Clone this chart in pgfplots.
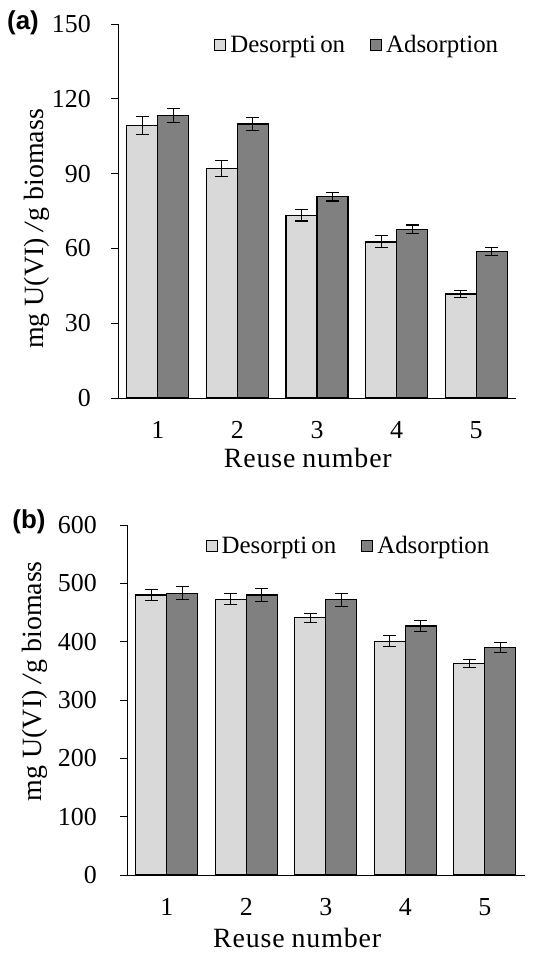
\documentclass[border=0pt]{standalone}
\usepackage{pgfplots}
\pgfplotsset{compat=1.18}
\usepackage{pgfplotstable}
\usepackage{fontspec}
\setmainfont{Liberation Serif}
\newfontfamily\panelfont{Liberation Sans}
\newfontfamily\wideserif[LetterSpace=3]{Liberation Serif}

\definecolor{desfill}{HTML}{D9D9D9}
\definecolor{adsfill}{HTML}{808080}

% reuse cycles, desorption / adsorption with error
\pgfplotstableread{
x d de a ae
1 109.3 3.5 113.3 2.7
2 92.0 3.3 109.9 2.7
3 73.3 2.3 80.8 1.8
4 62.6 2.4 67.6 1.8
5 41.7 1.3 58.8 1.5
}\tablea
\pgfplotstableread{
x d de a ae
1 480 9.7 483 11
2 473 10 480 11
3 441 8 472 11
4 401 9 427 9
5 362 7 390 8
}\tableb

\pgfplotsset{
  reuse/.style={
    scale only axis,
    ybar=0pt, bar width=31bp,
    xmin=0.5, xmax=5.5, ymin=0,
    axis x line=bottom, axis y line=left,
    axis line style={-, line width=1pt},
    tick align=outside,
    xtick={1,...,5},
    major x tick style={draw=none},
    extra x ticks={0.5,1.5,...,5.5},
    extra x tick labels={},
    extra x tick style={major tick length=6bp, tick style={line width=1pt, black}},
    major tick length=7bp,
    tick style={line width=1pt, black},
    /pgf/number format/assume math mode=true,
    ticklabel style={font=\fontsize{26}{28}\selectfont},
    xticklabel style={anchor=center, yshift=-25bp},
    yticklabel style={anchor=east, inner sep=0pt},
    label style={font=\fontsize{28}{30}\selectfont},
    ylabel={mg U(VI) \textit{/}g biomass},
    xlabel={\wideserif Reuse\hspace{0.25em}number},
    legend columns=2,
    legend style={draw=none, fill=none, font=\fontsize{25}{27}\selectfont,
      /tikz/every even column/.append style={column sep=24bp},
      /tikz/every odd column/.append style={column sep=3bp},
      nodes={inner sep=1bp}},
    legend image code/.code={\draw[#1, line width=0.9pt] (0bp,-5.5bp) rectangle (11bp,5.5bp);},
  },
  barD/.style={fill=desfill, draw=black, line width=1.2pt,
    error bars/.cd, y dir=both, y explicit,
    error bar style={line width=1.1pt, black},
    error mark options={black, mark size=6.5bp, line width=1.1pt, rotate=90}},
  barA/.style={fill=adsfill, draw=black, line width=1.2pt,
    error bars/.cd, y dir=both, y explicit,
    error bar style={line width=1.1pt, black},
    error mark options={black, mark size=6.5bp, line width=1.1pt, rotate=90}},
}

\begin{document}
\begin{tikzpicture}[x=1bp, y=1bp]
\useasboundingbox (0,-957) rectangle (536,0);

% panel (a)
\begin{axis}[reuse,
    at={(118bp,-398bp)}, anchor=south west,
    width=398bp, height=374bp,
    ymax=150, ytick={0,30,...,150},
    yticklabel style={xshift=-20bp},
    ylabel style={at={(axis description cs:-0.205,0.452)}, anchor=center},
    xlabel style={at={(axis description cs:0.477,-0.160)}, anchor=center},
    legend style={at={(axis description cs:0.60,0.944)}, anchor=center},
  ]
  \addplot[barD] table[x=x, y=d, y error=de] {\tablea};
  \addplot[barA] table[x=x, y=a, y error=ae] {\tablea};
  \legend{Desorpti\,on, Adsorption}
\end{axis}
\node[font=\panelfont\bfseries\fontsize{26}{28}\selectfont] at (23,-23) {(a)};

% panel (b)
\begin{axis}[reuse,
    at={(127bp,-875bp)}, anchor=south west,
    width=397.5bp, height=350bp,
    ymax=600, ytick={0,100,...,600},
    yticklabel style={xshift=-23bp},
    ylabel style={at={(axis description cs:-0.231,0.554)}, anchor=center},
    xlabel style={at={(axis description cs:0.428,-0.18)}, anchor=center},
    legend style={at={(axis description cs:0.556,0.94)}, anchor=center},
  ]
  \addplot[barD] table[x=x, y=d, y error=de] {\tableb};
  \addplot[barA] table[x=x, y=a, y error=ae] {\tableb};
  \legend{Desorpti\,on, Adsorption}
\end{axis}
\node[font=\panelfont\bfseries\fontsize{26}{28}\selectfont] at (29,-522) {(b)};
\end{tikzpicture}
\end{document}
